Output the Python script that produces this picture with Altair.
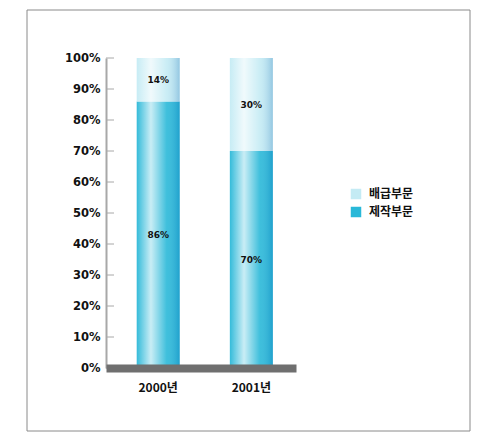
import altair as alt
import pandas as pd

years = ["2000년", "2001년"]
segments = ["배급부문", "제작부문"]
production = [86, 70]     # 제작부문 (bottom)
distribution = [14, 30]   # 배급부문 (top)
tick_values = [0, 10, 20, 30, 40, 50, 60, 70, 80, 90, 100]

rows = []
for i, yr in enumerate(years):
    rows.append({"year": yr, "segment": "제작부문", "value": production[i], "ord": 0})
    rows.append({"year": yr, "segment": "배급부문", "value": distribution[i], "ord": 1})
df = pd.DataFrame(rows)
totals = pd.DataFrame({"year": years, "total": [p + d for p, d in zip(production, distribution)]})
ticks_df = pd.DataFrame({"tick": tick_values})

FONT = "DejaVu Sans"
KFONT = "Noto Sans CJK KR"

xscale = alt.Scale(domain=years, paddingInner=0.54, paddingOuter=0.29, align=0.57)
yscale = alt.Scale(domain=[0, 100], nice=False)

xaxis = alt.Axis(title=None, labelAngle=0, ticks=False, domainColor="#6f6f6f",
                 domainWidth=8, zindex=1, labelPadding=14, labelFont=KFONT,
                 labelFontSize=12, labelFontWeight="bold", labelColor="#111")
yaxis = alt.Axis(title=None, values=tick_values, ticks=False, grid=False,
                 labelOverlap=False,
                 domainColor="#a8a8a8", domainWidth=2, labelPadding=6,
                 labelExpr="datum.value + '%'", labelFont=FONT, labelFontSize=11.5,
                 labelFontWeight="bold", labelColor="#111")

def X():
    return alt.X("year:N", scale=xscale, sort=years, axis=xaxis)

bars = alt.Chart(df).mark_bar(size=43).encode(
    x=X(),
    y=alt.Y("value:Q", stack="zero", scale=yscale, axis=yaxis),
    color=alt.Color("segment:N", scale=alt.Scale(domain=segments, range=["#c4ebf4", "#29b8d8"]),
                    legend=alt.Legend(title=None, orient="none", legendX=244, legendY=130,
                                      symbolType="square", symbolSize=110, symbolStrokeWidth=0,
                                      labelFont=KFONT, labelFontSize=12, labelFontWeight="bold",
                                      labelColor="#111", rowPadding=6, labelOffset=7)),
    order=alt.Order("ord:Q"),
)

shine = alt.Chart(totals).mark_bar(
    size=43,
    color=alt.LinearGradient(
        gradient="linear", x1=0, x2=1, y1=0, y2=0,
        stops=[
            alt.GradientStop(color="rgba(255,255,255,0.05)", offset=0),
            alt.GradientStop(color="rgba(255,255,255,0.75)", offset=0.33),
            alt.GradientStop(color="rgba(255,255,255,0.1)", offset=0.7),
            alt.GradientStop(color="rgba(0,90,170,0.25)", offset=1),
        ],
    ),
).encode(x=X(), y=alt.Y("total:Q", scale=yscale, axis=yaxis))

labels = alt.Chart(df).transform_stack(
    stack="value", groupby=["year"], as_=["v0", "v1"], sort=[alt.SortField("ord", order="ascending")]
).transform_calculate(
    mid="(datum.v0 + datum.v1) / 2", lab="datum.value + '%'"
).mark_text(font=FONT, fontSize=9, fontWeight="bold", color="#111").encode(
    x=X(),
    y=alt.Y("mid:Q", scale=yscale, axis=yaxis),
    text="lab:N",
)

yticks = alt.Chart(ticks_df).mark_rule(color="#a8a8a8", strokeWidth=1).encode(
    x=alt.value(0), x2=alt.value(8), y=alt.Y("tick:Q", scale=yscale, axis=yaxis)
)

frame = alt.Chart(pd.DataFrame({"a": [0]})).mark_rect(
    filled=False, stroke="#8a8a8a", strokeWidth=1
).encode(x=alt.value(-79), x2=alt.value(364), y=alt.value(-48), y2=alt.value(373))

chart = alt.layer(bars, frame, yticks, shine, labels).properties(
    width=190, height=310,
    autosize=alt.AutoSizeParams(type="none"),
    padding={"left": 98, "top": 50, "right": 180, "bottom": 66},
).configure_view(stroke=None)

chart.save("out.html", embed_options={"renderer": "svg", "actions": False})
